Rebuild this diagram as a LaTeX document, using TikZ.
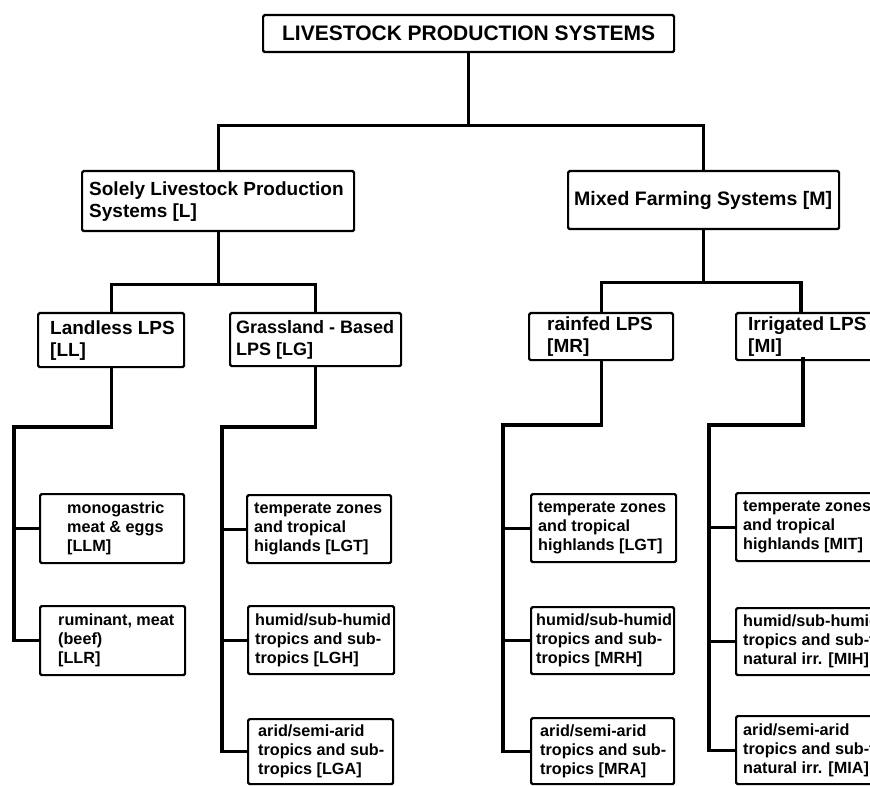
\documentclass[tikz,border=0pt]{standalone}
\usepackage{fontspec}
\setmainfont{Liberation Sans}
\newcommand\fbig{\fontsize{19}{22}\selectfont\bfseries}
\newcommand\fsmall{\fontsize{16.2}{19}\selectfont\bfseries}
\begin{document}
\begin{tikzpicture}[x=1pt,y=-1pt,
  boxa/.style={draw, line width=2.2pt, rounded corners=1.5pt, inner sep=0pt, anchor=north west},
  conn/.style={line width=3.2pt, line cap=rect},
  tbig/.style={font=\fbig, align=left, inner sep=0pt, anchor=west},
  tsmall/.style={font=\fsmall, align=left, inner sep=0pt, anchor=west}]
\useasboundingbox (0,0) rectangle (870,786);
\clip (0,0) rectangle (870,786);
\fill[white] (0,0) rectangle (870,786);
% level 1
\node[boxa, minimum width=411pt, minimum height=37pt] (top) at (262,14) {};
\node[font=\fontsize{21}{24}\selectfont\bfseries, inner sep=0pt] (topt) at (top.center) {LIVESTOCK PRODUCTION SYSTEMS};
% level 2
\node[boxa, minimum width=272pt, minimum height=60pt] (L) at (81,170) {};
\node[tbig] (Lt) at (89,0 |- L.center) {Solely Livestock Production\\Systems [L]};
\node[boxa, minimum width=271pt, minimum height=58pt] (M) at (567,170) {};
\node[tbig, font=\fontsize{19.5}{22}\selectfont\bfseries] (Mt) at (574,0 |- M.center) {Mixed Farming Systems [M]};
% level 3
\node[boxa, minimum width=146pt, minimum height=54pt] (LL) at (37,312) {};
\node[tbig] (LLt) at (50,0 |- LL.center) {Landless LPS\\{[LL]}};
\node[boxa, minimum width=171pt, minimum height=53pt] (LG) at (229,312) {};
\node[tbig, font=\fontsize{18}{22}\selectfont\bfseries] (LGt) at (236,0 |- LG.center) {Grassland - Based\\LPS [LG]};
\node[boxa, minimum width=144pt, minimum height=47pt] (MR) at (528,312) {};
\node[tbig] (MRt) at (547,0 |- MR.center) {rainfed LPS\\{[MR]}};
\node[boxa, minimum width=180pt, minimum height=47pt] (MI) at (735,312) {};
\node[tbig] (MIt) at (748,0 |- MI.center) {Irrigated LPS\\{[MI]}};
% level 4
\node[boxa, minimum width=144pt, minimum height=69pt] (LLM) at (39,493) {};
\node[tsmall] (LLMt) at (67,0 |- LLM.center) {monogastric\\meat \& eggs\\{[LLM]}};
\node[boxa, minimum width=145pt, minimum height=69pt] (LLR) at (39,605) {};
\node[tsmall] (LLRt) at (58,0 |- LLR.center) {ruminant, meat\\(beef)\\{[LLR]}};
\node[boxa, minimum width=144pt, minimum height=68pt] (LGT) at (246,494) {};
\node[tsmall] (LGTt) at (254,0 |- LGT.center) {temperate zones\\and tropical\\higlands [LGT]};
\node[boxa, minimum width=146pt, minimum height=68pt] (LGH) at (247,605) {};
\node[tsmall] (LGHt) at (255,0 |- LGH.center) {humid/sub-humid\\tropics and sub-\\tropics [LGH]};
\node[boxa, minimum width=145pt, minimum height=65pt] (LGA) at (247,718) {};
\node[tsmall] (LGAt) at (258,0 |- LGA.center) {arid/semi-arid\\tropics and sub-\\tropics [LGA]};
\node[boxa, minimum width=145pt, minimum height=68pt] (MRT) at (530,493) {};
\node[tsmall] (MRTt) at (538,0 |- MRT.center) {temperate zones\\and tropical\\highlands [LGT]};
\node[boxa, minimum width=143pt, minimum height=67pt] (MRH) at (530,606) {};
\node[tsmall] (MRHt) at (536,0 |- MRH.center) {humid/sub-humid\\tropics and sub-\\tropics [MRH]};
\node[boxa, minimum width=143pt, minimum height=66pt] (MRA) at (530,717) {};
\node[tsmall] (MRAt) at (540,0 |- MRA.center) {arid/semi-arid\\tropics and sub-\\tropics [MRA]};
\node[boxa, minimum width=180pt, minimum height=68pt] (MIT) at (735,492) {};
\node[tsmall] (MITt) at (743,0 |- MIT.center) {temperate zones\\and tropical\\highlands [MIT]};
\node[boxa, minimum width=180pt, minimum height=67pt] (MIH) at (735,607) {};
\node[tsmall] (MIHt) at (743,0 |- MIH.center) {humid/sub-humid\\tropics and sub-tropics\\natural irr. [MIH]};
\node[boxa, minimum width=180pt, minimum height=68pt] (MIA) at (735,715) {};
\node[tsmall] (MIAt) at (743,0 |- MIA.center) {arid/semi-arid\\tropics and sub-tropics\\natural irr. [MIA]};
% connectors level 1-2
\draw[conn] (top.south) -- ++(0,72) coordinate (tj);
\draw[conn] (L.north) |- (tj) -| (M.north);
% level 2-3
\draw[conn] (L.south) -- ++(0,52) coordinate (lj);
\draw[conn] (LL.north) |- (lj) -| (LG.north);
\draw[conn] (M.south) -- ++(0,52) coordinate (mj);
\coordinate (MItop) at (801,312);
\draw[conn] (MR.north) |- (mj) -| (MItop);
% level 3-4
\coordinate (llb) at (14,427);
\draw[conn] (LL.south) |- (llb) |- (LLR.west);
\draw[conn] (llb |- LLM.west) -- (LLM.west);
\coordinate (lgb) at (222,427);
\draw[conn] (LG.south) |- (lgb) |- (LGA.west);
\draw[conn] (lgb |- LGT.west) -- (LGT.west);
\draw[conn] (lgb |- LGH.west) -- (LGH.west);
\coordinate (mrb) at (503,425);
\draw[conn] (MR.south) |- (mrb) |- (MRA.west);
\draw[conn] (mrb |- MRT.west) -- (MRT.west);
\draw[conn] (mrb |- MRH.west) -- (MRH.west);
\coordinate (MIbot) at (803,359);
\coordinate (mib) at (709,425);
\draw[conn] (MIbot) |- (mib) |- (MIA.west);
\draw[conn] (mib |- MIT.west) -- (MIT.west);
\draw[conn] (mib |- MIH.west) -- (MIH.west);
\end{tikzpicture}
\end{document}
